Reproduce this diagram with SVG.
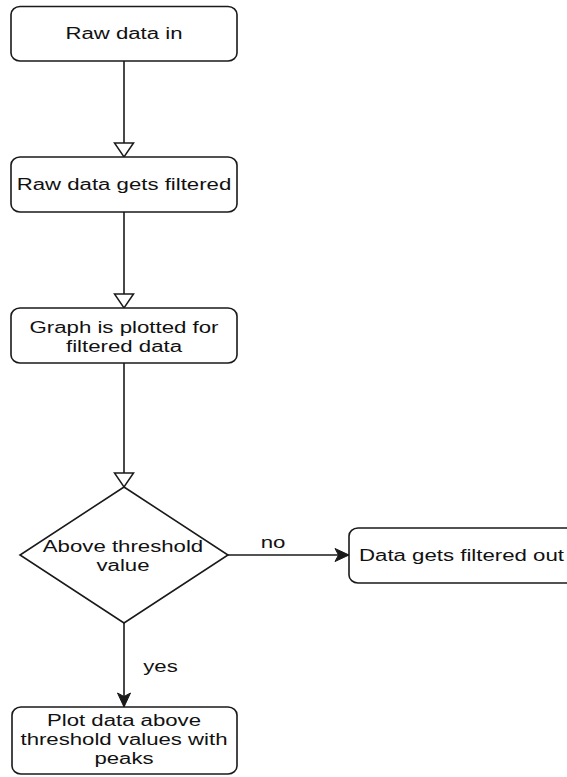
<svg xmlns="http://www.w3.org/2000/svg" width="567" height="777" viewBox="0 0 567 777">
  <defs>
    <style>
      .box { fill: #ffffff; stroke: #1a1a1a; stroke-width: 1.6; }
      .edge { fill: none; stroke: #1a1a1a; stroke-width: 1.6; }
      .t { font-family: "Liberation Sans", Arial, sans-serif; font-size: 16px; fill: #111111; text-anchor: middle; }
    </style>
    <marker id="hollow" viewBox="-1 -11 17 22" markerWidth="17" markerHeight="22" refX="14" refY="0" orient="auto" markerUnits="userSpaceOnUse">
      <path d="M0,-9.5 L14,0 L0,9.5 Z" fill="#ffffff" stroke="#1a1a1a" stroke-width="1.5"/>
    </marker>
    <marker id="filled" viewBox="-1 -8 16 16" markerWidth="16" markerHeight="16" refX="14" refY="0" orient="auto" markerUnits="userSpaceOnUse">
      <path d="M0,-6.5 L14,0 L0,6.5 L3.5,0 Z" fill="#1a1a1a" stroke="#1a1a1a" stroke-width="1"/>
    </marker>
  </defs>
  <rect width="567" height="777" fill="#ffffff"/>

  <g id="connectors">
    <path class="edge" d="M124,61 L124,157" marker-end="url(#hollow)"/>
    <path class="edge" d="M124,212 L124,308" marker-end="url(#hollow)"/>
    <path class="edge" d="M124,363 L124,487" marker-end="url(#hollow)"/>
    <path class="edge" d="M228,555 L349,555" marker-end="url(#filled)"/>
    <path class="edge" d="M124,623 L124,707" marker-end="url(#filled)"/>
    <text class="t" x="273" y="548" textLength="24.7" lengthAdjust="spacingAndGlyphs">no</text>
    <text class="t" x="160.5" y="672" textLength="34.5" lengthAdjust="spacingAndGlyphs">yes</text>
  </g>

  <g id="raw-data-in">
    <rect class="box" x="11" y="6.5" width="226" height="54.5" rx="9" ry="8"/>
    <text class="t" x="124" y="39" textLength="117" lengthAdjust="spacingAndGlyphs">Raw data in</text>
  </g>

  <g id="raw-data-filtered">
    <rect class="box" x="11" y="157" width="226" height="55" rx="9" ry="8"/>
    <text class="t" x="124" y="190" textLength="214.5" lengthAdjust="spacingAndGlyphs">Raw data gets filtered</text>
  </g>

  <g id="graph-plotted">
    <rect class="box" x="11" y="308" width="226" height="55" rx="9" ry="8"/>
    <text class="t" x="124" y="332.5" textLength="189" lengthAdjust="spacingAndGlyphs">Graph is plotted for</text>
    <text class="t" x="124" y="351.5" textLength="116" lengthAdjust="spacingAndGlyphs">filtered data</text>
  </g>

  <g id="above-threshold">
    <polygon class="box" points="124,487 228,555 124,623 20,555"/>
    <text class="t" x="123" y="552" textLength="160.4" lengthAdjust="spacingAndGlyphs">Above threshold</text>
    <text class="t" x="123" y="571" textLength="53" lengthAdjust="spacingAndGlyphs">value</text>
  </g>

  <g id="filtered-out">
    <rect class="box" x="349" y="528" width="260" height="55" rx="9" ry="8"/>
    <text x="359" y="561" font-family="Liberation Sans, Arial, sans-serif" font-size="16" fill="#111111" textLength="205" lengthAdjust="spacingAndGlyphs">Data gets filtered out</text>
  </g>

  <g id="plot-peaks">
    <rect class="box" x="12" y="707" width="225" height="67" rx="9" ry="8"/>
    <text class="t" x="124" y="726" textLength="154" lengthAdjust="spacingAndGlyphs">Plot data above</text>
    <text class="t" x="124" y="745" textLength="207" lengthAdjust="spacingAndGlyphs">threshold values with</text>
    <text class="t" x="124" y="764" textLength="59" lengthAdjust="spacingAndGlyphs">peaks</text>
  </g>
</svg>
